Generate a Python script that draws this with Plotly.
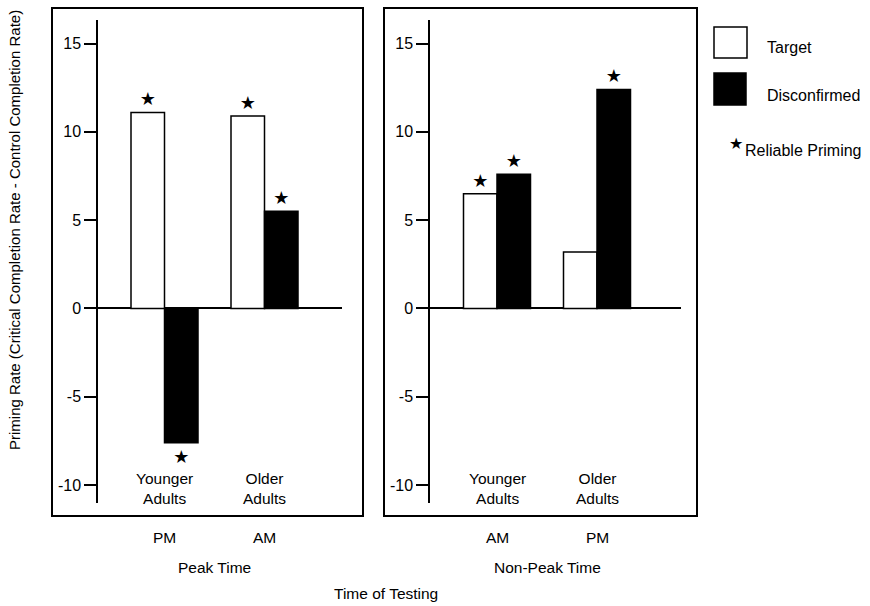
import plotly.graph_objects as go

# ---- data ----
groups = ["Younger Adults", "Older Adults"]
group_labels = ["Younger<br>Adults", "Older<br>Adults"]
peak_times = ["PM", "AM"]
nonpeak_times = ["AM", "PM"]
series_names = ["Target", "Disconfirmed"]

peak_target = [11.1, 10.9]
peak_disconfirmed = [-7.6, 5.5]
nonpeak_target = [6.5, 3.2]
nonpeak_disconfirmed = [7.6, 12.4]

peak_target_reliable = [True, True]
peak_disconfirmed_reliable = [True, True]
nonpeak_target_reliable = [True, False]
nonpeak_disconfirmed_reliable = [True, True]

y_ticks = [-10, -5, 0, 5, 10, 15]
y_ticktext = ["-10", "-5", "0", "5", "10", "15"]

W, H = 870, 606
FONT = "Liberation Sans, Arial, Helvetica, sans-serif"


def px(x):
    return x / W


def py(y):
    return 1 - y / H


def stars(flags):
    return ["★" if f else "" for f in flags]


fig = go.Figure()

bar_style = {
    "Target": dict(color="white", line=dict(color="black", width=1.5)),
    "Disconfirmed": dict(color="black", line=dict(color="black", width=1.5)),
}

for xa, ya, t_vals, d_vals, t_rel, d_rel in [
    ("x", "y", peak_target, peak_disconfirmed, peak_target_reliable, peak_disconfirmed_reliable),
    ("x2", "y2", nonpeak_target, nonpeak_disconfirmed, nonpeak_target_reliable, nonpeak_disconfirmed_reliable),
]:
    for name, vals, rel in [("Target", t_vals, t_rel), ("Disconfirmed", d_vals, d_rel)]:
        fig.add_trace(go.Bar(
            x=groups, y=vals, name=name, xaxis=xa, yaxis=ya,
            marker=bar_style[name],
            text=stars(rel), textposition="outside",
            textfont=dict(size=18, color="black", family="DejaVu Sans"),
            constraintext="none", cliponaxis=False,
            showlegend=False, offsetgroup=name, hoverinfo="skip",
        ))

yrange = [-11.01, 16.33]
ydomain = [py(503), py(20)]
yax = dict(
    range=yrange, domain=ydomain, tickvals=y_ticks, ticktext=y_ticktext, showgrid=False,
    showline=True, linecolor="black", linewidth=1.5,
    ticks="outside", ticklen=12, tickwidth=1.5, tickcolor="black",
    zeroline=True, zerolinecolor="black", zerolinewidth=1.5,
    tickfont=dict(size=16, color="black", family=FONT),
)
xax = dict(
    type="category", categoryorder="array", categoryarray=groups,
    showgrid=False, showline=False, showticklabels=False, ticks="", zeroline=False,
)

fig.update_layout(
    width=W, height=H,
    margin=dict(l=0, r=0, t=0, b=0),
    paper_bgcolor="white", plot_bgcolor="rgba(0,0,0,0)",
    barmode="group", bargap=0.33, bargroupgap=0,
    font=dict(family=FONT, color="black", size=15),
    xaxis=dict(xax, domain=[px(98), px(342)], range=[-0.665, 1.775], anchor="y"),
    yaxis=dict(yax, anchor="x"),
    xaxis2=dict(xax, domain=[px(430), px(681)], range=[-0.67, 1.84], anchor="y2"),
    yaxis2=dict(yax, anchor="x2"),
    showlegend=False,
)

shapes = []
# panel frames
for x0, x1 in [(52, 363), (384, 697)]:
    shapes.append(dict(type="rect", xref="paper", yref="paper",
                       x0=px(x0), x1=px(x1), y0=py(516), y1=py(8),
                       line=dict(color="black", width=2), fillcolor="rgba(0,0,0,0)"))
# legend boxes
shapes.append(dict(type="rect", xref="paper", yref="paper",
                   x0=px(714), x1=px(747), y0=py(58), y1=py(27),
                   line=dict(color="black", width=1.5), fillcolor="white"))
shapes.append(dict(type="rect", xref="paper", yref="paper",
                   x0=px(714), x1=px(746), y0=py(105), y1=py(73),
                   line=dict(color="black", width=1.5), fillcolor="black"))

ann = []
for xa, times, title in [("x", peak_times, "Peak Time"), ("x2", nonpeak_times, "Non-Peak Time")]:
    for g, gl, t in zip(groups, group_labels, times):
        ann.append(dict(x=g, xref=xa, y=py(488), yref="paper", text=gl, showarrow=False,
                        font=dict(size=15.5), yanchor="middle", xanchor="center"))
        ann.append(dict(x=g, xref=xa, y=py(537), yref="paper", text=t, showarrow=False,
                        font=dict(size=15.5), yanchor="middle", xanchor="center"))
    ann.append(dict(x=0.5, xref=xa, y=py(567), yref="paper", text=title, showarrow=False,
                    font=dict(size=15.5), yanchor="middle", xanchor="center"))

ann.append(dict(x=px(386), xref="paper", y=py(593), yref="paper", text="Time of Testing",
                showarrow=False, font=dict(size=15.5), yanchor="middle", xanchor="center"))
ann.append(dict(x=px(14), xref="paper", y=py(230), yref="paper",
                text="Priming Rate (Critical Completion Rate - Control Completion Rate)",
                textangle=-90, showarrow=False, font=dict(size=15),
                xanchor="center", yanchor="middle"))
# legend texts
ann.append(dict(x=px(765), xref="paper", y=py(47), yref="paper", text=series_names[0],
                showarrow=False, font=dict(size=16), xanchor="left", yanchor="middle"))
ann.append(dict(x=px(765), xref="paper", y=py(95), yref="paper", text=series_names[1],
                showarrow=False, font=dict(size=16), xanchor="left", yanchor="middle"))
ann.append(dict(x=px(727), xref="paper", y=py(143), yref="paper", text="★",
                showarrow=False, font=dict(size=16, family="DejaVu Sans"),
                xanchor="left", yanchor="middle"))
ann.append(dict(x=px(743), xref="paper", y=py(151), yref="paper", text="Reliable Priming",
                showarrow=False, font=dict(size=16), xanchor="left", yanchor="middle"))

fig.update_layout(shapes=shapes, annotations=ann)

fig.write_html(
    "out.html",
    config={"displayModeBar": False},
    post_script="document.body.style.margin='0';document.body.style.overflow='hidden';",
)
